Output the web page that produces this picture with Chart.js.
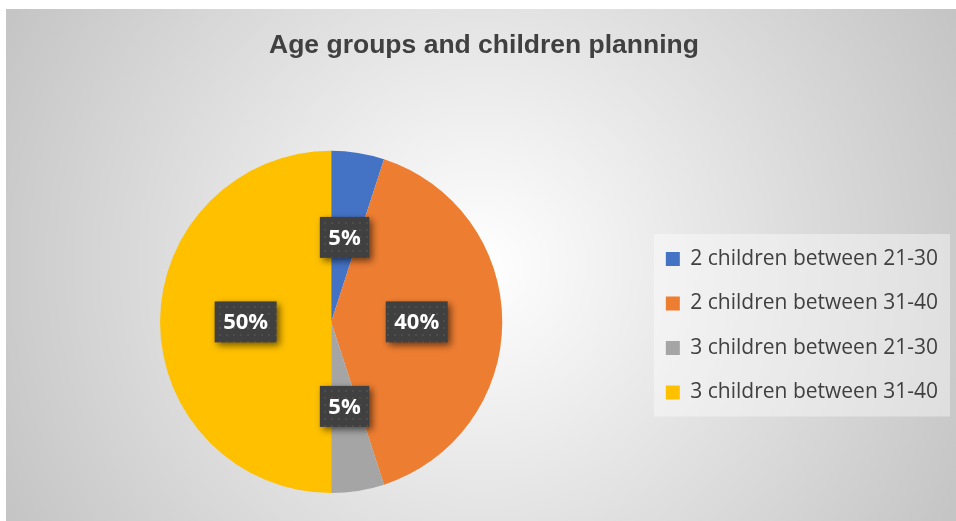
<!DOCTYPE html>
<html>
<head>
<meta charset="utf-8">
<script src="https://cdn.jsdelivr.net/npm/chart.js@4"></script>
<style>
  html, body { margin: 0; padding: 0; background: #ffffff; }
  #wrap { position: absolute; left: 6px; top: 9px; width: 950px; height: 512px; }
</style>
</head>
<body>
<div id="wrap"><canvas id="c" width="950" height="512"></canvas></div>
<script>
// Planning answers grouped by number of children and age range
const categories = [
  '2 children between 21-30',
  '2 children between 31-40',
  '3 children between 21-30',
  '3 children between 31-40'
];
const shares = [5, 40, 5, 50];
const sliceColors = ['#4472C4', '#ED7D31', '#A5A5A5', '#FFC000'];
const chartTitle = 'Age groups and children planning';

// Dotted dark fill used behind the slice labels
function makeDotPattern(ctx) {
  const tile = document.createElement('canvas');
  tile.width = 7; tile.height = 7;
  const t = tile.getContext('2d');
  t.fillStyle = '#404040';
  t.fillRect(0, 0, 7, 7);
  t.fillStyle = '#4d4d4d';
  t.fillRect(3, 3, 2, 2);
  return ctx.createPattern(tile, 'repeat');
}

const backdrop = {
  id: 'backdrop',
  beforeDraw(chart) {
    const { ctx, width, height } = chart;
    ctx.save();
    const g = ctx.createRadialGradient(width / 2, height / 2, 0, width / 2, height / 2, 540);
    g.addColorStop(0, '#ffffff');
    g.addColorStop(1, '#c4c4c4');
    ctx.fillStyle = g;
    ctx.fillRect(0, 0, width, height);

    // translucent panel behind the legend entries
    const boxes = chart.legend && chart.legend.legendHitBoxes;
    if (boxes && boxes.length) {
      const first = boxes[0], last = boxes[boxes.length - 1];
      const x0 = first.left - 12;
      const y0 = first.top + first.height / 2 - 25;
      const y1 = last.top + last.height / 2 + 24;
      ctx.fillStyle = 'rgba(255,255,255,0.4)';
      ctx.fillRect(x0, y0, width - 6 - x0, y1 - y0);
    }
    ctx.restore();
  }
};

const sliceLabels = {
  id: 'sliceLabels',
  afterDatasetsDraw(chart) {
    const { ctx } = chart;
    const meta = chart.getDatasetMeta(0);
    const data = chart.data.datasets[0].data;
    const total = data.reduce((a, b) => a + b, 0);
    const pattern = makeDotPattern(ctx);
    ctx.save();
    ctx.font = 'bold 22px "Open Sans", "Noto Sans", sans-serif';
    ctx.textAlign = 'center';
    ctx.textBaseline = 'middle';
    meta.data.forEach((arc, i) => {
      const pos = arc.tooltipPosition();
      const text = Math.round(data[i] / total * 100) + '%';
      const w = ctx.measureText(text).width + 17;
      const h = 41;
      const x = pos.x - w / 2, y = pos.y - h / 2;
      ctx.save();
      ctx.shadowColor = 'rgba(0,0,0,0.55)';
      ctx.shadowBlur = 7;
      ctx.shadowOffsetX = 3;
      ctx.shadowOffsetY = 3;
      ctx.fillStyle = pattern;
      ctx.fillRect(x, y, w, h);
      ctx.restore();
      ctx.fillStyle = '#ffffff';
      ctx.fillText(text, pos.x, pos.y + 1);
    });
    ctx.restore();
  }
};

new Chart(document.getElementById('c'), {
  type: 'pie',
  data: {
    labels: categories,
    datasets: [{
      data: shares,
      backgroundColor: sliceColors,
      borderWidth: 0
    }]
  },
  options: {
    responsive: false,
    devicePixelRatio: 1,
    animation: false,
    layout: { padding: { left: 14, right: 8, bottom: 28, top: 0 } },
    plugins: {
      title: {
        display: true,
        text: chartTitle,
        color: '#404040',
        font: { family: '"Liberation Sans", Arial, sans-serif', size: 26.5, weight: 'bold' },
        padding: { top: 21, bottom: 89 }
      },
      legend: {
        position: 'right',
        align: 'center',
        title: {
          display: true,
          text: ' ',
          font: { size: 10 },
          padding: { top: 0, bottom: 137.5 }
        },
        labels: {
          boxWidth: 14,
          boxHeight: 14,
          padding: 23.5,
          color: '#404040',
          font: { family: '"Open Sans", "Noto Sans", sans-serif', size: 21 }
        }
      },
      tooltip: { enabled: false }
    }
  },
  plugins: [backdrop, sliceLabels]
});
</script>
</body>
</html>
